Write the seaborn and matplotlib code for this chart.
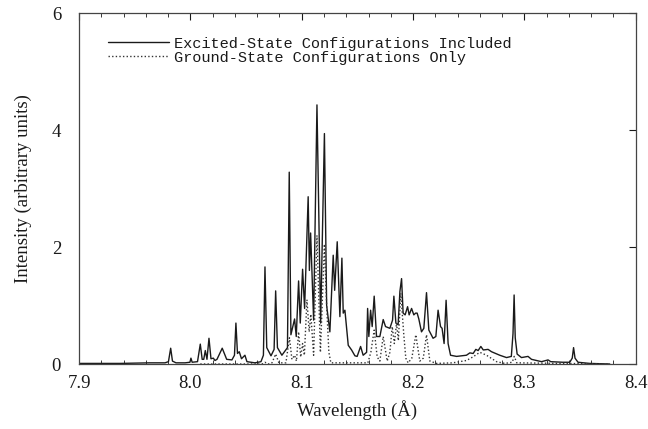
import matplotlib
matplotlib.use("Agg")
import matplotlib.pyplot as plt
from matplotlib.ticker import MultipleLocator
import seaborn as sns
import pandas as pd

# Computed spectrum with excited-state configurations included (wavelength in Å, intensity)
wl_excited = [
    7.9000, 7.9368, 7.9637, 7.9772, 7.9803, 7.9823, 7.9839, 7.9871, 7.9952, 7.9996,
    8.0005, 8.0016, 8.0064, 8.0089, 8.0106, 8.0120, 8.0134, 8.0149, 8.0167, 8.0185,
    8.0206, 8.0221, 8.0239, 8.0286, 8.0326, 8.0373, 8.0396, 8.0409, 8.0423, 8.0439,
    8.0459, 8.0490, 8.0508, 8.0580, 8.0634, 8.0656, 8.0670, 8.0686, 8.0724, 8.0752,
    8.0766, 8.0782, 8.0822, 8.0872, 8.0888, 8.0903, 8.0936, 8.0951, 8.0972, 8.0987,
    8.1008, 8.1026, 8.1047, 8.1058, 8.1069, 8.1080, 8.1107, 8.1137, 8.1170, 8.1204,
    8.1224, 8.1253, 8.1283, 8.1296, 8.1319, 8.1343, 8.1361, 8.1373, 8.1388, 8.1418,
    8.1448, 8.1478, 8.1498, 8.1529, 8.1552, 8.1583, 8.1592, 8.1603, 8.1619, 8.1633,
    8.1651, 8.1672, 8.1702, 8.1732, 8.1753, 8.1792, 8.1816, 8.1828, 8.1846, 8.1866,
    8.1882, 8.1897, 8.1911, 8.1929, 8.1951, 8.1965, 8.1987, 8.2007, 8.2023, 8.2037,
    8.2052, 8.2076, 8.2097, 8.2121, 8.2142, 8.2180, 8.2205, 8.2225, 8.2247, 8.2261,
    8.2279, 8.2297, 8.2315, 8.2337, 8.2391, 8.2480, 8.2510, 8.2540, 8.2564, 8.2585,
    8.2609, 8.2631, 8.2674, 8.2705, 8.2779, 8.2840, 8.2883, 8.2898, 8.2908, 8.2918,
    8.2935, 8.2974, 8.3033, 8.3064, 8.3154, 8.3213, 8.3237, 8.3345, 8.3408, 8.3430,
    8.3442, 8.3455, 8.3482, 8.3587, 8.3767,
]
int_excited = [
    0.01, 0.01, 0.02, 0.02, 0.04, 0.27, 0.05, 0.02, 0.02, 0.03,
    0.10, 0.03, 0.04, 0.34, 0.08, 0.08, 0.23, 0.08, 0.44, 0.09,
    0.10, 0.06, 0.08, 0.27, 0.08, 0.07, 0.15, 0.70, 0.18, 0.21,
    0.09, 0.15, 0.04, 0.02, 0.04, 0.15, 1.66, 0.28, 0.14, 0.25,
    1.25, 0.28, 0.15, 0.28, 3.28, 0.50, 0.77, 0.47, 1.42, 0.70,
    1.62, 0.95, 2.22, 2.86, 1.60, 2.24, 0.75, 4.43, 0.70, 3.94,
    1.00, 0.55, 1.86, 1.26, 2.09, 0.81, 1.81, 0.87, 0.92, 0.32,
    0.24, 0.14, 0.13, 0.30, 0.15, 0.20, 0.95, 0.47, 0.92, 0.64,
    1.16, 0.47, 0.47, 0.76, 0.64, 0.61, 0.75, 1.16, 0.70, 0.67,
    1.24, 1.46, 0.87, 0.84, 0.98, 0.84, 0.95, 0.84, 0.87, 0.87,
    0.77, 0.55, 0.61, 1.22, 0.58, 0.44, 0.47, 0.92, 0.64, 0.61,
    0.35, 1.09, 0.35, 0.15, 0.13, 0.15, 0.19, 0.18, 0.25, 0.23,
    0.30, 0.24, 0.25, 0.21, 0.15, 0.11, 0.13, 0.52, 1.18, 0.45,
    0.17, 0.11, 0.13, 0.08, 0.04, 0.07, 0.04, 0.03, 0.03, 0.10,
    0.28, 0.10, 0.03, 0.01, 0.00,
]

# Computed spectrum with ground-state configurations only
wl_ground = [
    8.0089, 8.0643, 8.0670, 8.0697, 8.0733, 8.0766, 8.0795, 8.0858, 8.0890, 8.0912,
    8.0936, 8.0953, 8.0972, 8.0991, 8.1008, 8.1024, 8.1047, 8.1067, 8.1082, 8.1107,
    8.1137, 8.1168, 8.1204, 8.1224, 8.1244, 8.1262, 8.1594, 8.1621, 8.1651, 8.1678,
    8.1702, 8.1732, 8.1768, 8.1792, 8.1813, 8.1832, 8.1852, 8.1868, 8.1890, 8.1917,
    8.1935, 8.1956, 8.1989, 8.2025, 8.2061, 8.2092, 8.2121, 8.2151, 8.2211, 8.2357,
    8.2480, 8.2537, 8.2600, 8.2660, 8.2750, 8.2824, 8.2891, 8.2909, 8.2932, 8.3767,
]
int_ground = [
    0.00, 0.00, 0.03, 0.00, 0.02, 0.17, 0.02, 0.02, 0.45, 0.08,
    0.15, 0.05, 0.55, 0.12, 0.35, 0.15, 1.10, 0.55, 0.85, 0.15,
    2.20, 0.20, 2.05, 1.00, 0.20, 0.02, 0.02, 0.20, 0.58, 0.12,
    0.05, 0.47, 0.05, 0.20, 0.64, 0.35, 0.70, 0.40, 1.21, 0.50,
    0.10, 0.02, 0.10, 0.50, 0.05, 0.10, 0.50, 0.05, 0.01, 0.02,
    0.06, 0.12, 0.20, 0.15, 0.04, 0.01, 0.03, 0.13, 0.02, 0.00,
]

labels = ["Excited-State Configurations Included", "Ground-State Configurations Only"]
x_ticks = [7.9, 8.0, 8.1, 8.2, 8.3, 8.4]
y_ticks = [0, 2, 4, 6]

sns.set_theme(style="white")
plt.rcParams["font.family"] = ["Liberation Serif", "DejaVu Serif"]

ink = "#1a1a1a"
fig = plt.figure(figsize=(6.48, 4.29), dpi=100)
ax = fig.add_axes([0.122, 0.1515, 0.859, 0.818])

excited = pd.DataFrame({"wavelength": wl_excited, "intensity": int_excited})
ground = pd.DataFrame({"wavelength": wl_ground, "intensity": int_ground})

sns.lineplot(data=excited, x="wavelength", y="intensity", ax=ax, estimator=None,
             sort=False, color=ink, linewidth=1.0, label=labels[0])
sns.lineplot(data=ground, x="wavelength", y="intensity", ax=ax, estimator=None,
             sort=False, color="#333333", linewidth=1.0, linestyle=(0, (1, 1.6)),
             label=labels[1])

ax.set_xlim(7.9, 8.4)
ax.set_ylim(0, 6)
ax.set_xticks(x_ticks)
ax.set_xticklabels([f"{v:.1f}" for v in x_ticks])
ax.set_yticks(y_ticks)
ax.set_yticklabels([str(v) for v in y_ticks])
ax.xaxis.set_minor_locator(MultipleLocator(0.02))
ax.tick_params(axis="both", which="major", direction="in", length=5, width=0.8,
               colors=ink, labelsize=13.5, top=True, right=True, pad=8)
ax.tick_params(axis="x", which="minor", direction="in", length=3, width=0.6,
               color=ink, top=True, bottom=True)
ax.tick_params(axis="y", which="major", pad=13)

for side in ax.spines.values():
    side.set_color("#444444")
    side.set_linewidth(0.9)

ax.set_xlabel("Wavelength (Å)", fontsize=13.5, color=ink, labelpad=6)
ax.set_ylabel("Intensity (arbitrary units)", fontsize=13.5, color=ink, labelpad=14)

leg = ax.legend(loc="upper left", bbox_to_anchor=(0.052, 0.933), frameon=False,
                prop={"family": "Liberation Mono", "size": 11},
                handlelength=4.0, handletextpad=0.3, labelspacing=0.0,
                borderpad=0, borderaxespad=0)
for t in leg.get_texts():
    t.set_color(ink)

fig.savefig("out.png", dpi=100, facecolor="white")
